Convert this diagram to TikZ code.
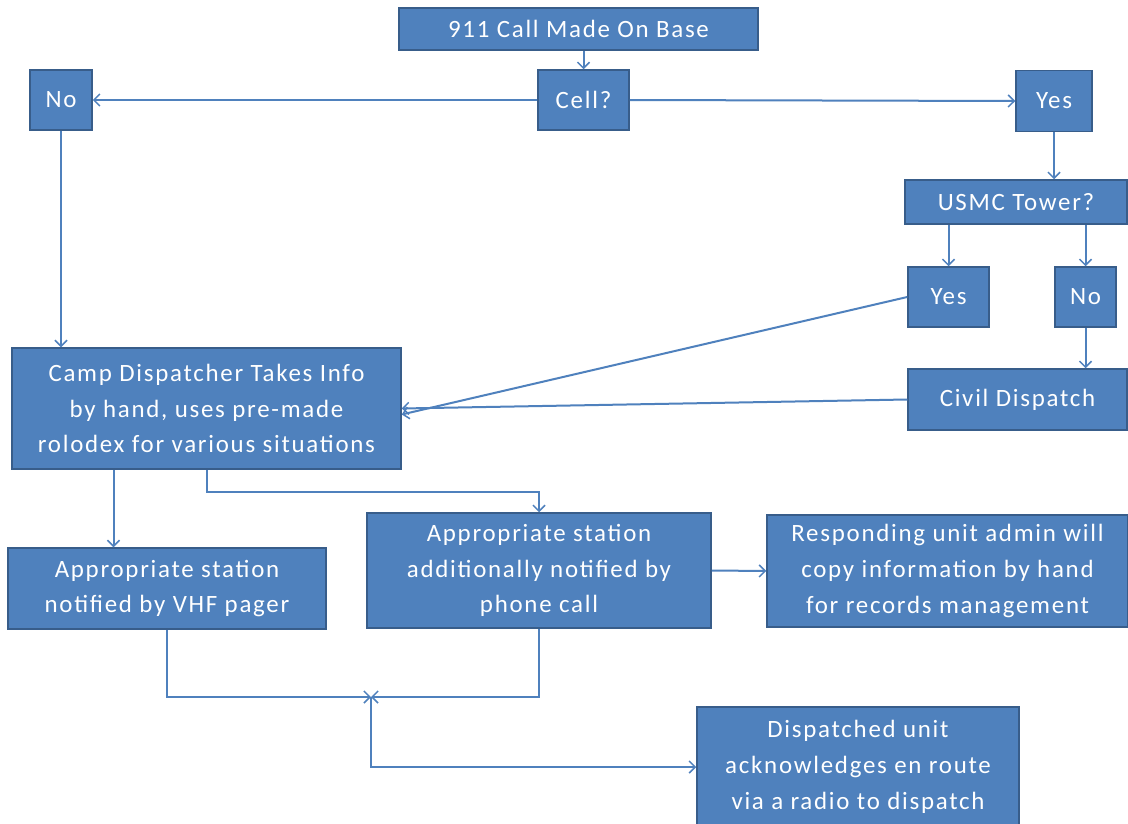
\documentclass[tikz,border=0pt]{standalone}
\usepackage{fontspec}
\setmainfont{Carlito}[LetterSpace=7]
\usetikzlibrary{arrows.meta}
\definecolor{boxfill}{HTML}{4F81BD}
\definecolor{boxline}{HTML}{385D8A}
\definecolor{connc}{HTML}{4F81BD}
\begin{document}
\begin{tikzpicture}[x=1bp,y=-1bp,
  box/.style={draw=boxline, line width=1.5bp, fill=boxfill, text=white,
    font=\fontsize{25}{36}\selectfont, align=center, inner sep=0pt},
  conn/.style={draw=connc, line width=2bp, -{Straight Barb[length=6bp,width=12bp,line width=1.5bp]}}]
\fill[white] (0,0) rectangle (1128,824);
\useasboundingbox (0,0) rectangle (1128,824);

\node[box, minimum width=359bp, minimum height=42bp] (call) at (578.5,29) {911 Call Made On Base};
\node[box, minimum width=91bp, minimum height=60bp] (cell) at (583.5,100) {Cell?};
\node[box, minimum width=62bp, minimum height=60bp] (noL) at (61,100) {No};
\node[box, minimum width=76bp, minimum height=61bp] (yesR) at (1054,101) {Yes};
\node[box, minimum width=222bp, minimum height=44bp] (usmc) at (1016,202) {USMC Tower?};
\node[box, minimum width=81bp, minimum height=60bp] (yesM) at (948.5,297) {Yes};
\node[box, minimum width=61bp, minimum height=60bp] (noM) at (1085.5,297) {No};
\node[box, minimum width=219bp, minimum height=61bp] (civil) at (1017.5,399.5) {Civil Dispatch};
\node[box, minimum width=389bp, minimum height=121bp] (camp) at (206.5,408.5)
  {Camp Dispatcher Takes Info\\by hand, uses pre-made\\rolodex for various situations};
\node[box, minimum width=318bp, minimum height=81bp] (vhf) at (167,588.5)
  {Appropriate station\\notified by VHF pager};
\node[box, minimum width=344bp, minimum height=115bp] (phone) at (539,570.5)
  {Appropriate station\\additionally notified by\\phone call};
\node[box, minimum width=361bp, minimum height=112bp] (resp) at (947.5,571)
  {Responding unit admin will\\copy information by hand\\for records management};
\node[box, minimum width=322bp, minimum height=120bp] (disp) at (858,767)
  {Dispatched unit\\acknowledges en route\\via a radio to dispatch};

\coordinate (m) at (371,697);

\draw[conn] (call.south -| cell.north) -- (cell.north);
\draw[conn] (cell.west) -- (noL.east);
\draw[conn] (cell.east) -- (yesR.west);
\draw[conn] (yesR.south) -- (yesR.south |- usmc.north);
\draw[conn] (yesM.north |- usmc.south) -- (yesM.north);
\draw[conn] (noM.north |- usmc.south) -- (noM.north);
\draw[conn] (noM.south) -- (noM.south |- civil.north);
\draw[conn] (yesM.west) -- ([yshift=-6bp]camp.east);
\draw[conn] (civil.west) -- (camp.east);
\draw[conn] (noL.south) -- (noL.south |- camp.north);
\draw[conn] ([xshift=-93bp]camp.south) -- ([xshift=-93bp]camp.south |- vhf.north);
\draw[conn] (camp.south) -- ++(0,22) -| (phone.north);
\draw[conn] (phone.east) -- (resp.west);
\draw[conn] (vhf.south) |- (m);
\draw[conn] (phone.south) |- (m);
\draw[conn] (m) |- (disp.west);
\end{tikzpicture}
\end{document}
